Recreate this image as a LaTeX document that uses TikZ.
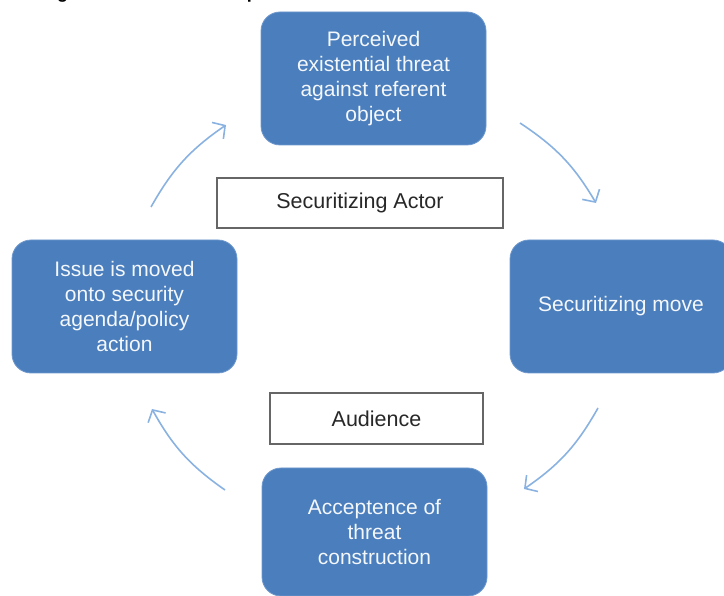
\documentclass[tikz,border=0pt]{standalone}
\usepackage{fontspec}
\setmainfont{Liberation Sans}
\usetikzlibrary{arrows.meta}
\definecolor{boxblue}{RGB}{74,126,188}
\definecolor{boxedge}{RGB}{110,152,206}
\definecolor{arrowblue}{RGB}{138,178,225}
\definecolor{txtgray}{RGB}{40,40,40}
\begin{document}
\begin{tikzpicture}[x=1pt,y=-1pt,
  bluebox/.style={draw=boxedge, line width=0.8pt, fill=boxblue, rounded corners=19pt,
    text=white!94!boxblue, align=center, font=\fontsize{21}{25}\selectfont, inner sep=0pt},
  labelbox/.style={draw=black!60, line width=1.3pt, fill=white, text=txtgray,
    font=\fontsize{21.5}{25}\selectfont, inner sep=0pt},
  cyc/.style={draw=arrowblue, line width=1.6pt, -{Straight Barb[length=9pt,width=20pt]}}]
\useasboundingbox (0,0) rectangle (724,596);
% partially visible title (cut off at the top)
\node[anchor=base west, font=\fontsize{18}{20}\selectfont\bfseries, inner sep=0pt] (title) at (41,-1.2) {Figure 1: Securitization process};
% main boxes
\node[bluebox, minimum width=225pt, minimum height=133pt] (threat) at (373.5,78.5) {Perceived\\existential threat\\against referent\\object};
\node[bluebox, minimum width=222pt, minimum height=133pt] (move) at (621,306.5) {Securitizing move};
\node[bluebox, minimum width=225pt, minimum height=128pt] (accept) at (374.5,532) {Acceptence of\\threat\\construction};
\node[bluebox, minimum width=225pt, minimum height=133pt] (issue) at (124.5,306.5) {Issue is moved\\onto security\\agenda/policy\\action};
% label boxes
\node[labelbox, minimum width=286pt, minimum height=50pt] (actor) at (360,203) {Securitizing Actor};
\node[labelbox, minimum width=213pt, minimum height=51pt] (aud) at (376.5,418.5) {Audience};
% cycle arrows
\coordinate (a1s) at (520,123); \coordinate (a1e) at (596,203);
\coordinate (a2s) at (598,408); \coordinate (a2e) at (524,489);
\coordinate (a3s) at (225,490); \coordinate (a3e) at (152,409);
\coordinate (a4s) at (151,207); \coordinate (a4e) at (226,125);
\draw[cyc] (a1s) to[bend left=13] (a1e);
\draw[cyc] (a2s) to[bend left=13] (a2e);
\draw[cyc] (a3s) to[bend left=13] (a3e);
\draw[cyc] (a4s) to[bend left=13] (a4e);
\end{tikzpicture}
\end{document}
